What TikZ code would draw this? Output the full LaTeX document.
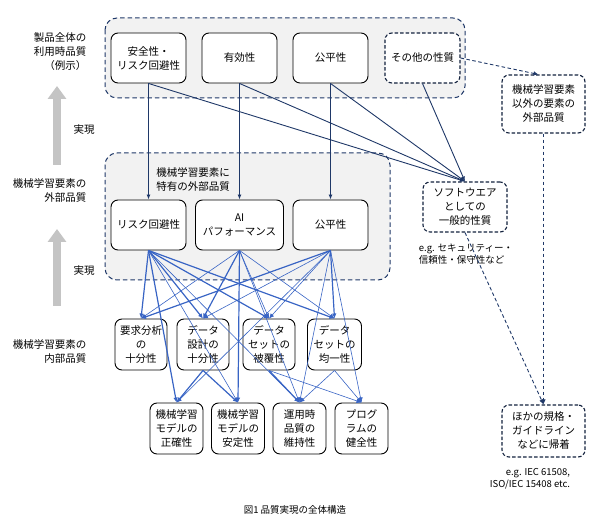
\documentclass[tikz,border=0pt]{standalone}
\usepackage{fontspec}
\setmainfont{Noto Sans CJK JP}
\usetikzlibrary{arrows.meta}
\definecolor{navy}{HTML}{1F3868}
\definecolor{lblue}{HTML}{3864C4}
\definecolor{bgray}{HTML}{F2F2F2}
\definecolor{agray}{HTML}{C4C4C4}

\begin{document}
\begin{tikzpicture}[x=1pt, y=-1pt,
   qbox/.style={draw, line width=0.9pt, rounded corners=7pt, fill=white, align=center, inner sep=1pt, font=\fontsize{10.5}{14}\selectfont},
   dbox/.style={qbox, dash pattern=on 3.5pt off 2pt, line width=1.1pt, draw=navy!60!black},
   group/.style={draw=navy, dash pattern=on 4.5pt off 3pt, line width=1pt, fill=bgray, rounded corners=12pt},
   navyarrow/.style={navy, line width=0.9pt, -{Latex[length=5pt,width=4pt]}},
   thickblue/.style={lblue, line width=1.2pt, -{Latex[length=5pt,width=4.5pt]}},
   thinblue/.style={lblue, line width=0.6pt, -{Latex[length=5pt,width=4.5pt]}},
   dasharrow/.style={navy, dash pattern=on 3.5pt off 2.5pt, line width=0.9pt, -{Latex[length=5pt,width=4.5pt]}},
   label/.style={font=\fontsize{10.5}{14}\selectfont, align=right, anchor=east},
   note/.style={font=\fontsize{9.5}{12.5}\selectfont, align=left}]
   \useasboundingbox (0,0) rectangle (590,526);

   \draw[group] (105,18) rectangle (465,98);
   \draw[group] (105,153) rectangle (390,280);

   \node[qbox, minimum width=75pt, minimum height=50pt] (safe) at (148.5,58) {安全性・\\リスク回避性};
   \node[qbox, minimum width=75pt, minimum height=50pt] (eff) at (239.5,58) {有効性};
   \node[qbox, minimum width=75pt, minimum height=50pt] (fairtop) at (330.5,58) {公平性};
   \node[dbox, minimum width=75pt, minimum height=50pt] (other) at (422.5,58) {その他の性質};

   \node[font=\fontsize{10.5}{14}\selectfont, align=left] (mlext) at (193,180) {機械学習要素に\\特有の外部品質};
   \node[qbox, minimum width=75pt, minimum height=50pt] (risk) at (148.5,225) {リスク回避性};
   \node[qbox, minimum width=88pt, minimum height=50pt] (ai) at (239.5,225) {AI\\パフォーマンス};
   \node[qbox, minimum width=75pt, minimum height=50pt] (fair) at (330.5,225) {公平性};

   \node[qbox, minimum width=52pt, minimum height=51pt] (req) at (141,344.5) {要求分析\\の\\十分性};
   \node[qbox, minimum width=52pt, minimum height=51pt] (design) at (203,344.5) {データ\\設計の\\十分性};
   \node[qbox, minimum width=52pt, minimum height=51pt] (cover) at (269,344.5) {データ\\セットの\\被覆性};
   \node[qbox, minimum width=54pt, minimum height=51pt] (uniform) at (334.5,344.5) {データ\\セットの\\均一性};

   \node[qbox, minimum width=53pt, minimum height=51pt] (acc) at (176.5,428.5) {機械学習\\モデルの\\正確性};
   \node[qbox, minimum width=53pt, minimum height=51pt] (stab) at (238,428.5) {機械学習\\モデルの\\安定性};
   \node[qbox, minimum width=53pt, minimum height=51pt] (ope) at (299.5,428.5) {運用時\\品質の\\維持性};
   \node[qbox, minimum width=53pt, minimum height=51pt] (prog) at (361.5,428.5) {プログ\\ラムの\\健全性};

   \node[dbox, minimum width=84pt, minimum height=50pt] (soft) at (465,207) {ソフトウエア\\としての\\一般的性質};
   \node[note] (softeg) at (466,254) {e.g. セキュリティー・\\信頼性・保守性など};
   \node[dbox, minimum width=83pt, minimum height=58pt] (outer) at (543.5,104) {機械学習要素\\以外の要素の\\外部品質};
   \node[dbox, minimum width=83pt, minimum height=52pt] (kika) at (543.5,431) {ほかの規格・\\ガイドライン\\などに帰着};
   \node[note, align=right] (kikaeg) at (530,479) {e.g. IEC 61508,\\ISO/IEC 15408 etc.};

   \node[label] (lvluse) at (90,52) {製品全体の\\利用時品質\\（例示）};
   \node[label] (lvlext) at (90,191) {機械学習要素の\\外部品質};
   \node[label] (lvlint) at (90,352) {機械学習要素の\\内部品質};
   \node[font=\fontsize{10.5}{14}\selectfont] (real1) at (84,130) {実現};
   \node[font=\fontsize{10.5}{14}\selectfont] (real2) at (84,271) {実現};
   \coordinate (up1a) at (57,165);
   \coordinate (up1b) at (57,86);
   \coordinate (up2a) at (57,306);
   \coordinate (up2b) at (57,229);
   \draw[agray, line width=8pt, -{Triangle[width=18pt,length=13pt]}] (up1a) -- (up1b);
   \draw[agray, line width=8pt, -{Triangle[width=18pt,length=13pt]}] (up2a) -- (up2b);

   \coordinate (dtop) at (405.5,104);
   \coordinate (dbot) at (405.5,458);
   \draw[lblue!80, line width=0.8pt, double=white, double distance=2.2pt] (dtop) -- (dbot);

   \node[font=\fontsize{9.5}{12}\selectfont] (caption) at (295,510) {図1 品質実現の全体構造};

   % top level to external quality
   \draw[navyarrow] (safe) -- (risk);
   \draw[navyarrow] (eff) -- (ai);
   \draw[navyarrow] (fairtop) -- (fair);
   \draw[navyarrow] (safe.south) -- (soft.north);
   \draw[navyarrow] (eff.south) -- (soft.north);
   \draw[navyarrow] (fairtop.south) -- (soft.north);
   \draw[navyarrow] (other.south) -- (soft.north);
   \draw[dasharrow] (other.east) -- ([xshift=-5pt]outer.north);
   \draw[dasharrow] (outer.south) -- (kika.north);
   \draw[dasharrow] (soft.south) -- (kika.north);

   % external to internal quality
   \draw[thickblue] (risk.south) -- (req.north);
   \draw[thickblue] (risk.south) -- (design.north);
   \draw[thickblue] (risk.south) -- (cover.north);
   \draw[thickblue] (risk.south) -- (uniform.north);
   \draw[thickblue] (risk.south) -- (acc.north);
   \draw[thinblue] (risk.south) -- (ope.north);
   \draw[thinblue] (risk.south) -- (stab.north);
   \draw[thinblue] (ai.south) -- (req.north);
   \draw[thickblue] (ai.south) -- (design.north);
   \draw[thinblue] (ai.south) -- (cover.north);
   \draw[thinblue] (ai.south) -- (uniform.north);
   \draw[thickblue] (ai.south) -- (stab.north);
   \draw[thinblue] (ai.south) -- (ope.north);
   \draw[thickblue] (fair.south) -- (req.north);
   \draw[thinblue] (fair.south) -- (design.north);
   \draw[thinblue] (fair.south) -- (cover.north);
   \draw[thickblue] (fair.south) -- (uniform.north);
   \draw[thinblue] (fair.south) -- (acc.north);
   \draw[thinblue] (fair.south) -- (ope.north);
   \draw[thinblue] (fair.south) -- (prog.north);

   % internal quality to components
   \draw[thickblue] (design.south) -- (acc.north);
   \draw[thickblue] (design.south) -- (stab.north);
   \draw[thickblue] (cover.south) -- (ope.north);
   \draw[thinblue] (cover.south) -- (prog.north);
   \draw[thinblue] (uniform.south) -- (ope.north);
   \draw[thinblue] (uniform.south) -- (prog.north);
\end{tikzpicture}
\end{document}
